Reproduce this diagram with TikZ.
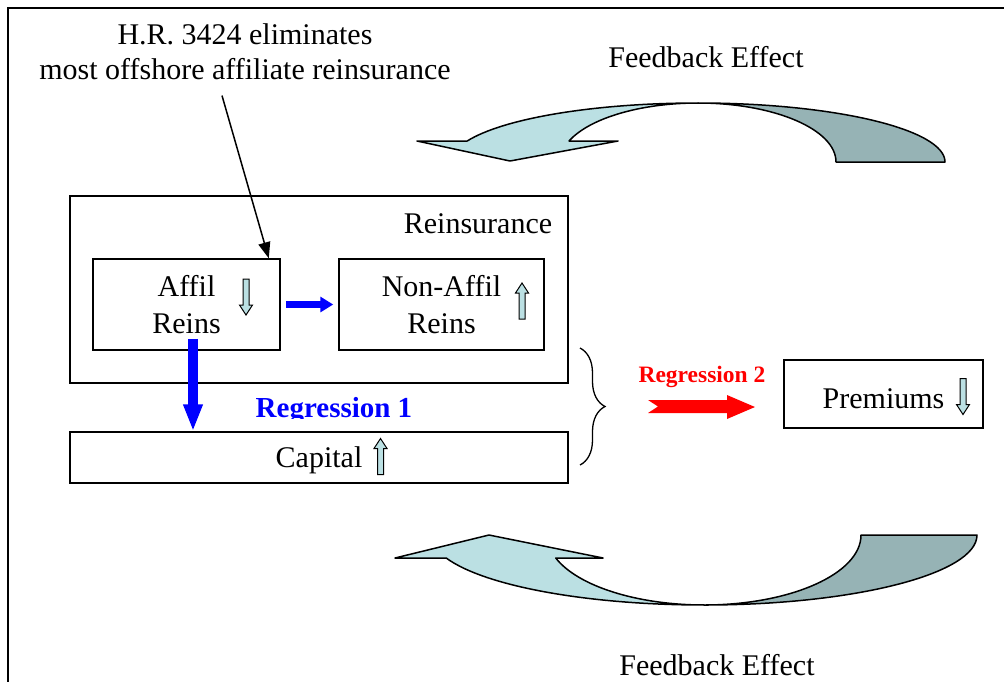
\documentclass[tikz,border=0pt]{standalone}
\usepackage{fontspec}
\setmainfont{Liberation Serif}
\usetikzlibrary{arrows.meta,decorations.pathreplacing}
\definecolor{ribbonfront}{RGB}{187,224,227}
\definecolor{ribbonback}{RGB}{150,179,181}
\begin{document}
\begin{tikzpicture}[x=1pt, y=-1pt,
    every node/.style={font=\fontsize{30}{37}\selectfont},
    box/.style={draw, line width=1.5pt, fill=white, align=center, inner sep=0pt, text depth=0pt},
    ribbon/.style={draw, line width=1.5pt, line join=round},
    decarrow/.pic={\draw[line width=1pt, fill=ribbonfront] (-3,-18)--(3,-18)--(3,8)--(6.5,8)--(0,18)--(-6.5,8)--(-3,8)--cycle;},
    incarrow/.pic={\draw[line width=1pt, fill=ribbonfront] (-3,18)--(3,18)--(3,-8)--(6.5,-8)--(0,-18)--(-6.5,-8)--(-3,-8)--cycle;}]
\useasboundingbox (0,0) rectangle (1004,681);
\draw[line width=2.5pt] (8,690)--(8,8)--(1015,8);

\node[font=\fontsize{30}{35}\selectfont, align=center] (hr) at (245,52) {H.R. 3424 eliminates\\most offshore affiliate reinsurance};
\node[anchor=base] (fbtop) at (706,67) {Feedback Effect};
\node[anchor=base] (fbbot) at (717,675) {Feedback Effect};

\draw[ribbon, fill=ribbonback] (698,103) arc[start angle=270, end angle=360, x radius=247, y radius=59]
   --(836,162) arc[start angle=0, end angle=-90, x radius=138, y radius=59]--cycle;
\draw[ribbon, fill=ribbonfront] (467.2,141) arc[start angle=200.85, end angle=270, x radius=247, y radius=59]
   arc[start angle=270, end angle=200.85, x radius=138, y radius=59]--(618,141)--(510,161)--(417,141)--cycle;
\draw[ribbon, fill=ribbonback] (704,605) arc[start angle=90, end angle=0, x radius=273, y radius=70]
   --(861,535) arc[start angle=0, end angle=90, x radius=157, y radius=70]--cycle;
\draw[ribbon, fill=ribbonfront] (446.2,558) arc[start angle=160.8, end angle=90, x radius=273, y radius=70]
   arc[start angle=90, end angle=160.8, x radius=157, y radius=70]--(603,558)--(489,535)--(395,558)--cycle;

\node[box, minimum width=498, minimum height=187] (reins) at (319,289.5) {};
\node[anchor=base] (reinslabel) at (478,233) {Reinsurance};
\node[box, minimum width=187, minimum height=91] (affil) at (186.5,304.5) {Affil\\Reins};
\node[box, minimum width=205, minimum height=91] (nonaffil) at (441.5,304.5) {Non-Affil\\Reins};
\pic at (246,297) {decarrow};
\pic at (522,301) {incarrow};
\draw[blue, line width=7pt, -{Triangle[length=13pt,width=15pt]}, shorten <=5pt, shorten >=5pt] (affil)--(nonaffil);

\begin{scope}
\clip (0,0) rectangle (1004,418.5);
\node[anchor=base, font=\fontsize{29}{34}\selectfont\bfseries, text=blue] (reg1) at (334,417) {Regression 1};
\end{scope}
\node[box, minimum width=498, minimum height=51] (capital) at (319,457.5) {Capital};
\pic at (380.5,456.5) {incarrow};
\draw[blue, line width=10pt, -{Triangle[length=27pt,width=18pt]}] ([shift={(6.5,-12)}]affil.south)--([xshift=6.5pt]affil.south |- capital.north);

\draw[line width=1.5pt, -{Triangle[length=16pt,width=12pt]}] ([shift={(-23,12)}]hr.south)--([xshift=-12pt]affil.north east);

\draw[line width=1.3pt, decorate, decoration={brace, amplitude=25pt}] (580,348)--(580,465);
\node[anchor=base, font=\fontsize{23.5}{28}\selectfont\bfseries, text=red] (reg2) at (702,382) {Regression 2};
\fill[red] (648,400)--(727,400)--(727,395)--(755,407)--(727,419)--(727,413)--(648,413)--(658,406.5)--cycle;
\node[box, minimum width=199, minimum height=68, text height=28pt] (premiums) at (883.5,394) {Premiums};
\pic at (963,396.5) {decarrow};
\end{tikzpicture}
\end{document}
